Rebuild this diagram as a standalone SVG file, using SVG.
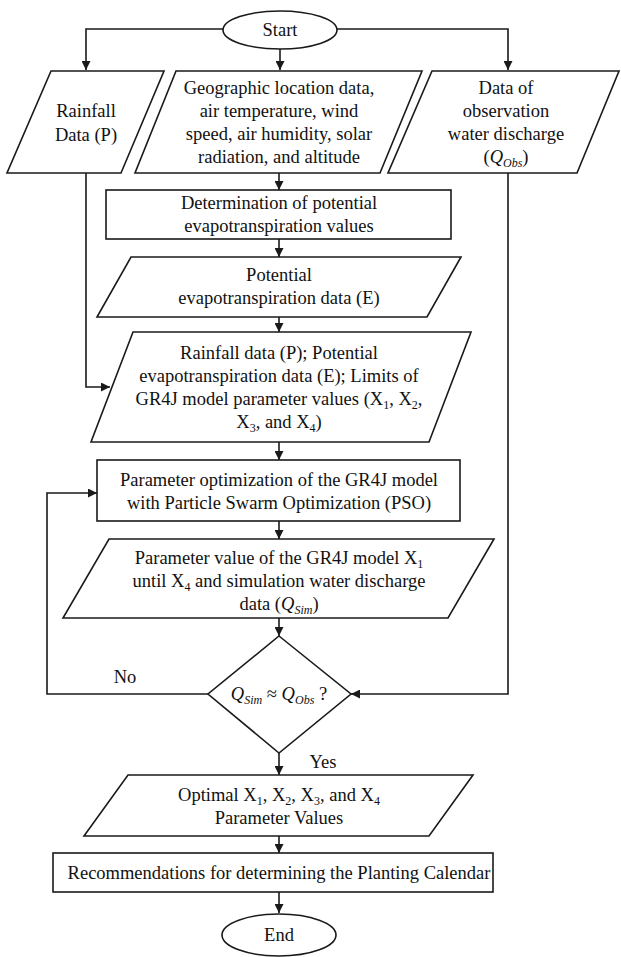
<svg xmlns="http://www.w3.org/2000/svg" width="621" height="957" viewBox="0 0 621 957">
<style>
.s{fill:#fff;stroke:#1a1a1a;stroke-width:1.6}
.c{fill:none;stroke:#1a1a1a;stroke-width:1.6}
text{font-family:"Liberation Serif","Times New Roman",serif;font-size:18.5px;fill:#111;text-anchor:middle}
.i{font-style:italic}
.sb{font-size:12px}
</style>
<defs>
<marker id="a" viewBox="0 0 10 10" refX="10" refY="5" markerWidth="9" markerHeight="9" markerUnits="userSpaceOnUse" orient="auto"><path d="M0,0 L10,5 L0,10 z" fill="#1a1a1a"/></marker>
</defs>
<rect width="621" height="957" fill="#fff"/>
<g id="connectors">
<path class="c" d="M223,29 H86 V70" marker-end="url(#a)"/>
<path class="c" d="M337,29 H508 V70" marker-end="url(#a)"/>
<path class="c" d="M280,48 V70" marker-end="url(#a)"/>
<path class="c" d="M279,173 V190" marker-end="url(#a)"/>
<path class="c" d="M279,239 V257" marker-end="url(#a)"/>
<path class="c" d="M279,317 V332" marker-end="url(#a)"/>
<path class="c" d="M86,173 V387 H110" marker-end="url(#a)"/>
<path class="c" d="M279,442 V460" marker-end="url(#a)"/>
<path class="c" d="M279,521 V539" marker-end="url(#a)"/>
<path class="c" d="M279,618 V636" marker-end="url(#a)"/>
<path class="c" d="M208,694 H47 V493 H97" marker-end="url(#a)"/>
<path class="c" d="M508,173 V694 H351" marker-end="url(#a)"/>
<path class="c" d="M279,753 V775" marker-end="url(#a)"/>
<path class="c" d="M279,836 V853" marker-end="url(#a)"/>
<path class="c" d="M279,892 V913" marker-end="url(#a)"/>
<text x="125" y="683">No</text>
<text x="323" y="768">Yes</text>
</g>
<g id="start">
<ellipse class="s" cx="280" cy="30" rx="57" ry="19"/>
<text x="280" y="36">Start</text>
</g>
<g id="rainfall">
<polygon class="s" points="51,71 164,71 121,173 7,173"/>
<text x="86" y="117">Rainfall</text>
<text x="86" y="141">Data (P)</text>
</g>
<g id="geo">
<polygon class="s" points="176,71 422,71 380,173 135,173"/>
<text x="279" y="94">Geographic location data,</text>
<text x="279" y="117">air temperature, wind</text>
<text x="279" y="140">speed, air humidity, solar</text>
<text x="279" y="163">radiation, and altitude</text>
</g>
<g id="obs">
<polygon class="s" points="432,71 619,71 577,173 388,173"/>
<text x="506" y="94">Data of</text>
<text x="506" y="117">observation</text>
<text x="506" y="140">water discharge</text>
<text x="506" y="163">(<tspan class="i">Q</tspan><tspan class="i sb" dy="4">Obs</tspan><tspan dy="-4">)</tspan></text>
</g>
<g id="determination">
<rect class="s" x="106" y="190" width="345" height="49"/>
<text x="279" y="209">Determination of potential</text>
<text x="279" y="232">evapotranspiration values</text>
</g>
<g id="potential">
<polygon class="s" points="131,257 461,257 427,317 97,317"/>
<text x="279" y="281">Potential</text>
<text x="279" y="304">evapotranspiration data (E)</text>
</g>
<g id="inputs">
<polygon class="s" points="133,332 471,332 429,442 91,442"/>
<text x="279" y="359">Rainfall data (P); Potential</text>
<text x="279" y="382">evapotranspiration data (E); Limits of</text>
<text x="279" y="405">GR4J model parameter values (X<tspan class="sb" dy="4">1</tspan><tspan dy="-4">, X</tspan><tspan class="sb" dy="4">2</tspan><tspan dy="-4">,</tspan></text>
<text x="279" y="428">X<tspan class="sb" dy="4">3</tspan><tspan dy="-4">, and X</tspan><tspan class="sb" dy="4">4</tspan><tspan dy="-4">)</tspan></text>
</g>
<g id="pso">
<rect class="s" x="97" y="460" width="363" height="61"/>
<text x="279" y="486">Parameter optimization of the GR4J model</text>
<text x="279" y="509">with Particle Swarm Optimization (PSO)</text>
</g>
<g id="simulation">
<polygon class="s" points="109,539 494,539 448,618 63,618"/>
<text x="279" y="564">Parameter value of the GR4J model X<tspan class="sb" dy="4">1</tspan></text>
<text x="279" y="587">until X<tspan class="sb" dy="4">4</tspan><tspan dy="-4">  and simulation water discharge</tspan></text>
<text x="279" y="610">data (<tspan class="i">Q</tspan><tspan class="i sb" dy="4">Sim</tspan><tspan dy="-4">)</tspan></text>
</g>
<g id="decision">
<polygon class="s" points="279,636 351,694 279,753 208,694"/>
<text x="279" y="700"><tspan class="i">Q</tspan><tspan class="i sb" dy="4">Sim</tspan><tspan dy="-4"> ≈ </tspan><tspan class="i">Q</tspan><tspan class="i sb" dy="4">Obs</tspan><tspan dy="-4"> ?</tspan></text>
</g>
<g id="optimal">
<polygon class="s" points="128,775 473,775 429,836 84,836"/>
<text x="279" y="801">Optimal X<tspan class="sb" dy="4">1</tspan><tspan dy="-4">, X</tspan><tspan class="sb" dy="4">2</tspan><tspan dy="-4">, X</tspan><tspan class="sb" dy="4">3</tspan><tspan dy="-4">, and X</tspan><tspan class="sb" dy="4">4</tspan></text>
<text x="279" y="824">Parameter Values</text>
</g>
<g id="recommendations">
<rect class="s" x="53" y="853" width="440" height="39"/>
<text x="279" y="879">Recommendations for determining the Planting Calendar</text>
</g>
<g id="end">
<ellipse class="s" cx="279" cy="935" rx="57" ry="21"/>
<text x="279" y="941">End</text>
</g>
</svg>
